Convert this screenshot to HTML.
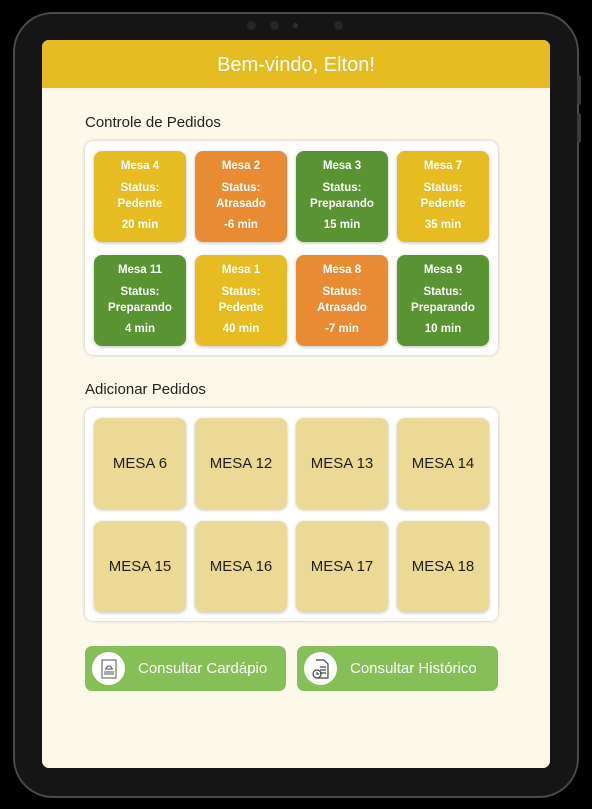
<!DOCTYPE html><html><head><style>
body{margin:0;width:592px;height:809px;background:#000;position:relative;overflow:hidden;font-family:"Liberation Sans",sans-serif}
.dev{position:absolute;left:13px;top:12px;width:562px;height:782px;background:#151515;border:2px solid #4a4a4a;border-radius:40px}
.side{position:absolute;left:577px;width:4px;background:#3a3a3a;border-radius:2px}
.scr{position:absolute;left:42px;top:40px;width:508px;height:728px;background:#fdf9ea;border-radius:7px;overflow:hidden}
.hd{height:48px;background:#e6bc22;color:#fff;font-size:20px;text-align:center;line-height:50px}
.t{position:absolute;left:43px;font-size:15px;color:#222}
.pn{position:absolute;left:43px;width:413px;background:#fff;border-radius:8px;box-shadow:0 0 3px rgba(0,0,0,.25)}
.c{position:absolute;width:92px;height:91px;border-radius:8px;color:#fff;font-weight:bold;font-size:11.5px;text-align:center;box-shadow:0 1px 3px rgba(0,0,0,.25)}
.c div{position:absolute;left:0;right:0}
.y{background:#e6bc22}.o{background:#e88b32}.g{background:#5a9332}
.b{background:#ecd995;color:#1e1e1e;font-weight:normal;font-size:15px;line-height:91px}
.btn{position:absolute;top:646px;height:45px;width:201px;background:#86bf58;border-radius:7px;color:#fff;font-size:15px;line-height:45px}
.ic{position:absolute;left:7px;top:6px;width:33px;height:33px;border-radius:50%;background:#fff}
.ic svg{position:absolute;left:8px;top:7px}
.cam{position:absolute;top:21px;width:9px;height:9px;border-radius:50%;background:#262626}
</style></head><body>
<div class="dev"></div>
<div class="side" style="top:75px;height:30px"></div><div class="side" style="top:113px;height:30px"></div>
<div class="cam" style="left:247px"></div><div class="cam" style="left:270px"></div><div class="cam" style="left:293px;width:5px;height:5px;top:23px;background:#234"></div><div class="cam" style="left:334px"></div>
<div class="scr">
<div class="hd">Bem-vindo, Elton!</div>
<div class="t" style="top:74px">Controle de Pedidos</div>
<div class="pn" style="top:101px;height:214px"></div>
<div class="t" style="top:341px">Adicionar Pedidos</div>
<div class="pn" style="top:368px;height:213px"></div>
</div>
<div id="cards"></div>
<script>
var d=[["y","Mesa 4","Pedente","20 min"],["o","Mesa 2","Atrasado","-6 min"],["g","Mesa 3","Preparando","15 min"],["y","Mesa 7","Pedente","35 min"],["g","Mesa 11","Preparando","4 min"],["y","Mesa 1","Pedente","40 min"],["o","Mesa 8","Atrasado","-7 min"],["g","Mesa 9","Preparando","10 min"]];
var xs=[94,195,296,397],h="";
d.forEach(function(a,i){var x=xs[i%4],y=i<4?151:255;h+='<div class="c '+a[0]+'" style="left:'+x+'px;top:'+y+'px"><div style="top:9px">'+a[1]+'</div><div style="top:31px">Status:</div><div style="top:47px">'+a[2]+'</div><div style="top:68px">'+a[3]+'</div></div>';});
[6,12,13,14,15,16,17,18].forEach(function(n,i){var x=xs[i%4],y=i<4?418:521;h+='<div class="c b" style="left:'+x+'px;top:'+y+'px">MESA '+n+'</div>';});
document.getElementById('cards').innerHTML=h;
</script>
<div class="btn" style="left:85px"><div class="ic"><svg width="18" height="20" viewBox="0 0 18 20" fill="none" stroke="#555" stroke-width="1"><rect x="2" y="1" width="14" height="18"/><path d="M5 10h8M6 10a3 3 0 0 1 6 0M4 13h10M4 15h10"/></svg></div><span style="margin-left:53px">Consultar Cardápio</span></div>
<div class="btn" style="left:297px"><div class="ic"><svg width="18" height="20" viewBox="0 0 18 20" fill="none" stroke="#444" stroke-width="1.2"><path d="M4 1h8l4 4v14H6"/><path d="M8 8h6M8 11h6M8 14h6"/><circle cx="5" cy="15" r="4"/><path d="M5 13v2h2"/></svg></div><span style="margin-left:53px">Consultar Histórico</span></div>
</body></html>
